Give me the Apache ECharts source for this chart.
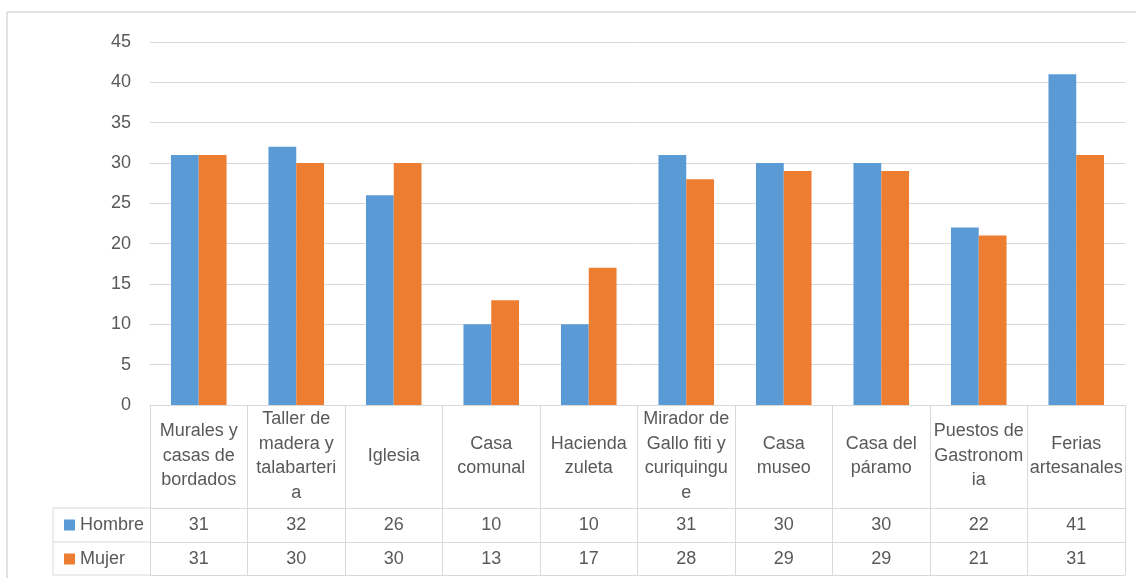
<!DOCTYPE html>
<html>
<head>
<meta charset="utf-8">
<script src="https://cdn.jsdelivr.net/npm/echarts@6/dist/echarts.min.js"></script>
<style>
html,body{margin:0;padding:0;background:#fff;}
#c{width:1136px;height:578px;}
</style>
</head>
<body>
<div id="c"></div>
<script>
var categories = [
  'Murales y\ncasas de\nbordados',
  'Taller de\nmadera y\ntalabarteri\na',
  'Iglesia',
  'Casa\ncomunal',
  'Hacienda\nzuleta',
  'Mirador de\nGallo fiti y\ncuriquingu\ne',
  'Casa\nmuseo',
  'Casa del\npáramo',
  'Puestos de\nGastronom\nia',
  'Ferias\nartesanales'
];
var seriesNames = ['Hombre', 'Mujer'];
var hombre = [31, 32, 26, 10, 10, 31, 30, 30, 22, 41];
var mujer = [31, 30, 30, 13, 17, 28, 29, 29, 21, 31];
var yTicks = [0, 5, 10, 15, 20, 25, 30, 35, 40, 45];

var FONT = 'Liberation Sans';
var TXT = '#595959';
var LINE = '#d9d9d9';

var chart = echarts.init(document.getElementById('c'));

function rowAxis(values, offset, showLabels) {
  return {
    type: 'category',
    gridIndex: 0,
    position: 'bottom',
    offset: offset,
    data: values.map(String),
    axisLine: {show: true, lineStyle: {color: LINE, width: 1}},
    axisTick: {show: false},
    axisLabel: {
      show: showLabels, interval: 0, margin: 17, verticalAlign: 'middle',
      color: TXT, fontFamily: FONT, fontSize: 18
    },
    splitLine: {show: false}
  };
}

chart.setOption({
  animation: false,
  backgroundColor: '#fff',
  textStyle: {fontFamily: FONT},
  grid: {left: 150, right: 11, top: 42, bottom: 173, containLabel: false},
  legend: {
    data: seriesNames,
    orient: 'vertical',
    left: 59,
    top: 510,
    icon: 'rect',
    itemWidth: 11,
    itemHeight: 11,
    itemGap: 14,
    textStyle: {color: TXT, fontFamily: FONT, fontSize: 18, lineHeight: 20}
  },
  xAxis: [
    {
      type: 'category',
      data: categories,
      axisLine: {show: true, lineStyle: {color: LINE, width: 1}},
      axisTick: {show: true, interval: 0, length: 170, lineStyle: {color: LINE, width: 1}},
      axisLabel: {
        interval: 0, margin: 51, verticalAlign: 'middle', align: 'center',
        color: TXT, fontFamily: FONT, fontSize: 18, lineHeight: 24.5
      },
      splitLine: {show: false}
    },
    rowAxis(hombre, 103, true),
    rowAxis(mujer, 137, true),
    rowAxis(mujer, 170, false)
  ],
  yAxis: {
    type: 'value',
    min: yTicks[0],
    max: yTicks[yTicks.length - 1],
    interval: 5,
    axisLine: {show: false},
    axisTick: {show: false},
    axisLabel: {color: TXT, fontFamily: FONT, fontSize: 18, margin: 19},
    splitLine: {show: true, lineStyle: {color: LINE, width: 1}}
  },
  series: [
    {
      name: seriesNames[0], type: 'bar', data: hombre,
      barGap: '0%', barCategoryGap: '43%',
      itemStyle: {color: '#5B9BD5'}
    },
    {
      name: seriesNames[1], type: 'bar', data: mujer,
      barGap: '0%', barCategoryGap: '43%',
      itemStyle: {color: '#ED7D31'}
    }
  ],
  graphic: [
    {type: 'line', shape: {x1: 7, y1: 12, x2: 1136, y2: 12}, style: {stroke: LINE, lineWidth: 1.5}},
    {type: 'line', shape: {x1: 7, y1: 12, x2: 7, y2: 578}, style: {stroke: LINE, lineWidth: 1.5}},
    {type: 'line', shape: {x1: 53, y1: 508, x2: 150, y2: 508}, style: {stroke: LINE, lineWidth: 1}},
    {type: 'line', shape: {x1: 53, y1: 542, x2: 150, y2: 542}, style: {stroke: LINE, lineWidth: 1}},
    {type: 'line', shape: {x1: 53, y1: 575, x2: 150, y2: 575}, style: {stroke: LINE, lineWidth: 1}},
    {type: 'line', shape: {x1: 53, y1: 508, x2: 53, y2: 575}, style: {stroke: LINE, lineWidth: 1}}
  ]
});
</script>
</body>
</html>
